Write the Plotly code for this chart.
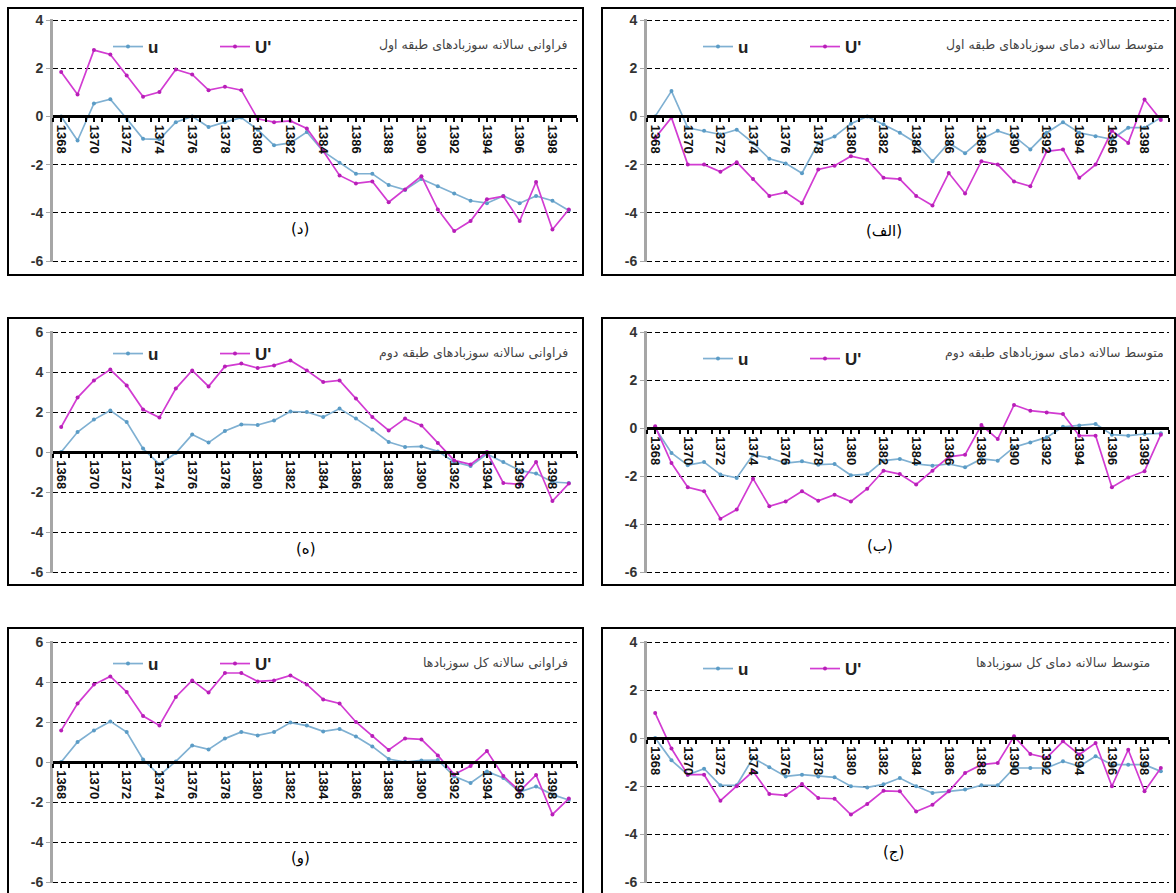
import plotly.graph_objects as go

# ---------------- data ----------------
years = [1368, 1369, 1370, 1371, 1372, 1373, 1374, 1375, 1376, 1377, 1378, 1379,
         1380, 1381, 1382, 1383, 1384, 1385, 1386, 1387, 1388, 1389, 1390, 1391,
         1392, 1393, 1394, 1395, 1396, 1397, 1398, 1399]
year_labels = ["1368", "1370", "1372", "1374", "1376", "1378", "1380", "1382",
               "1384", "1386", "1388", "1390", "1392", "1394", "1396", "1398"]

# (د) frequency of class-1 winds
freq1_u = [0.0, -1.0, 0.54, 0.71, -0.1, -0.93, -0.95, -0.24, 0.0, -0.44, -0.24, -0.05,
           -0.55, -1.2, -1.1, -0.65, -1.45, -1.92, -2.38, -2.38, -2.85, -3.05, -2.6, -2.9,
           -3.2, -3.5, -3.6, -3.3, -3.6, -3.3, -3.5, -3.9]
freq1_up = [1.84, 0.91, 2.75, 2.57, 1.70, 0.82, 1.01, 1.95, 1.74, 1.09, 1.23, 1.09,
            -0.1, -0.24, -0.19, -0.5, -1.44, -2.45, -2.78, -2.70, -3.56, -3.03, -2.48, -3.86,
            -4.76, -4.34, -3.44, -3.31, -4.34, -2.72, -4.69, -3.86]

# (الف) mean temperature of class-1 winds
temp1_u = [0.0, 1.05, -0.47, -0.6, -0.75, -0.55, -1.1, -1.76, -1.95, -2.36, -1.1, -0.83,
           -0.3, 0.0, -0.33, -0.68, -1.1, -1.86, -1.1, -1.53, -0.95, -0.6, -0.82, -1.37,
           -0.68, -0.24, -0.68, -0.82, -0.95, -0.47, -0.47, -0.05]
temp1_up = [-0.9, -0.05, -2.0, -2.0, -2.3, -1.9, -2.6, -3.3, -3.15, -3.6, -2.2, -2.05,
            -1.65, -1.8, -2.55, -2.6, -3.3, -3.7, -2.35, -3.2, -1.86, -2.0, -2.7, -2.9,
            -1.45, -1.37, -2.55, -2.0, -0.6, -1.1, 0.7, -0.15]

# (ه) frequency of class-2 winds
freq2_u = [0.0, 1.0, 1.62, 2.08, 1.5, 0.17, -0.62, -0.05, 0.87, 0.47, 1.05, 1.38,
           1.35, 1.58, 2.02, 2.0, 1.75, 2.17, 1.67, 1.12, 0.5, 0.25, 0.28, 0.03,
           -0.5, -0.7, -0.1, -0.5, -0.92, -1.08, -1.5, -1.55]
freq2_up = [1.25, 2.72, 3.58, 4.12, 3.33, 2.12, 1.72, 3.17, 4.08, 3.28, 4.28, 4.42,
            4.2, 4.33, 4.58, 4.08, 3.5, 3.58, 2.67, 1.75, 1.08, 1.67, 1.33, 0.45,
            -0.42, -0.62, 0.0, -1.55, -1.62, -0.5, -2.45, -1.58]

# (ب) mean temperature of class-2 winds
temp2_u = [0.0, -1.04, -1.55, -1.42, -1.94, -2.08, -1.11, -1.25, -1.46, -1.39, -1.53, -1.5,
           -1.97, -1.92, -1.36, -1.29, -1.5, -1.57, -1.5, -1.64, -1.29, -1.36, -0.8, -0.6,
           -0.39, 0.05, 0.1, 0.17, -0.28, -0.32, -0.25, -0.22]
temp2_up = [0.07, -1.46, -2.47, -2.64, -3.78, -3.4, -2.11, -3.26, -3.06, -2.64, -3.03, -2.78,
            -3.06, -2.53, -1.78, -1.92, -2.35, -1.78, -1.2, -1.11, 0.12, -0.46, 0.96, 0.72,
            0.65, 0.58, -0.32, -0.32, -2.47, -2.06, -1.8, -0.28]

# (و) frequency of all winds
freqall_u = [0.0, 1.0, 1.58, 2.03, 1.5, 0.13, -0.67, 0.03, 0.83, 0.63, 1.17, 1.5,
             1.33, 1.5, 1.97, 1.82, 1.53, 1.65, 1.28, 0.78, 0.15, 0.0, 0.08, 0.1,
             -0.72, -1.05, -0.47, -0.8, -1.5, -1.22, -1.63, -1.9]
freqall_up = [1.58, 2.92, 3.87, 4.28, 3.5, 2.3, 1.83, 3.25, 4.08, 3.47, 4.45, 4.45,
              4.03, 4.08, 4.33, 3.88, 3.13, 2.93, 2.0, 1.3, 0.6, 1.18, 1.13, 0.33,
              -0.62, -0.2, 0.55, -0.7, -1.45, -0.65, -2.62, -1.83]

# (ج) mean temperature of all winds
tempall_u = [0.0, -0.93, -1.53, -1.28, -1.97, -1.97, -0.83, -1.22, -1.6, -1.53, -1.6, -1.64,
             -2.01, -2.06, -1.93, -1.67, -2.01, -2.29, -2.22, -2.15, -1.97, -1.97, -1.25, -1.25,
             -1.25, -0.97, -1.18, -0.76, -1.11, -1.11, -1.11, -1.39]
tempall_up = [1.04, -0.44, -1.53, -1.53, -2.61, -2.01, -1.39, -2.33, -2.39, -1.92, -2.5, -2.53,
              -3.19, -2.75, -2.2, -2.22, -3.06, -2.78, -2.22, -1.46, -1.11, -1.04, 0.07, -0.67,
              -0.83, -0.14, -0.69, -0.21, -2.01, -0.49, -2.22, -1.25]

series_names = ["u", "U'"]
titles = ["فراوانی سالانه سوزبادهای طبقه اول",
          "متوسط سالانه دمای سوزبادهای طبقه اول",
          "فراوانی سالانه سوزبادهای طبقه دوم",
          "متوسط سالانه دمای سوزبادهای طبقه دوم",
          "فراوانی سالانه کل سوزبادها",
          "متوسط سالانه دمای کل سوزبادها"]
panel_labels = ["(د)", "(الف)", "(ه)", "(ب)", "(و)", "(ج)"]

# ---------------- layout helpers ----------------
W, H = 1176, 893
def px(x):
    return x / W
def py(y):
    return 1 - y / H

C_U = "#7fb0d2"
C_UM = "#5b9cc6"
C_UP = "#d23cd2"
C_UPM = "#b81fb8"
FONT = "Liberation Sans, Arial, sans-serif"
FA_FONT = "DejaVu Sans, Noto Sans, sans-serif"
PAD = 0.06

panels = [
    dict(u=freq1_u, up=freq1_up, ymin=-6, ymax=4, plot=(53, 20, 577, 261), box=(8, 8, 583, 275),
         leg=(108, 29), title=(570, 45), lab=(300, 229)),
    dict(u=temp1_u, up=temp1_up, ymin=-6, ymax=4, plot=(647, 20, 1169, 261), box=(602, 8, 1175, 275),
         leg=(698, 29), title=(1166, 45), lab=(884, 231)),
    dict(u=freq2_u, up=freq2_up, ymin=-6, ymax=6, plot=(53, 332, 577, 572), box=(8, 318, 583, 585),
         leg=(108, 336), title=(570, 353), lab=(306, 549)),
    dict(u=temp2_u, up=temp2_up, ymin=-6, ymax=4, plot=(647, 332, 1169, 572), box=(602, 318, 1175, 585),
         leg=(698, 341), title=(1166, 353), lab=(880, 546)),
    dict(u=freqall_u, up=freqall_up, ymin=-6, ymax=6, plot=(53, 642, 577, 882), box=(8, 628, 583, 900),
         leg=(108, 646), title=(570, 663), lab=(300, 858)),
    dict(u=tempall_u, up=tempall_up, ymin=-6, ymax=4, plot=(647, 642, 1169, 882), box=(602, 628, 1175, 900),
         leg=(698, 651), title=(1152, 663), lab=(893, 852)),
]

fig = go.Figure()
layout = dict(width=W, height=H, margin=dict(l=0, r=0, t=0, b=0, autoexpand=False),
              paper_bgcolor="white", plot_bgcolor="white", showlegend=True)
shapes = []
annotations = []

for i, p in enumerate(panels, start=1):
    sfx = "" if i == 1 else str(i)
    leg_name = "legend" if i == 1 else f"legend{i}"
    x0, y0, x1, y1 = p["plot"]
    fig.add_trace(go.Scatter(
        x=years, y=p["u"], name=series_names[0], mode="lines+markers",
        line=dict(color=C_U, width=1.7), marker=dict(color=C_UM, size=4),
        xaxis=f"x{sfx}", yaxis=f"y{sfx}", legend=leg_name))
    fig.add_trace(go.Scatter(
        x=years, y=p["up"], name=series_names[1], mode="lines+markers",
        line=dict(color=C_UP, width=1.7), marker=dict(color=C_UPM, size=4),
        xaxis=f"x{sfx}", yaxis=f"y{sfx}", legend=leg_name))

    ppu = (y1 - y0) / (p["ymax"] - p["ymin"])
    ydom = [py(y1 + PAD * ppu), py(y0 - PAD * ppu)]
    zero_pos = py(y0 + p["ymax"] * ppu)
    yt = list(range(p["ymin"], p["ymax"] + 1, 2))

    layout[f"xaxis{sfx}"] = dict(
        domain=[px(x0), px(x1)], range=[years[0] - 0.5, years[-1] + 0.5],
        anchor="free", position=zero_pos, automargin=False,
        showline=True, linecolor="black", linewidth=2.5,
        tickmode="array", tickvals=years[::2], ticktext=year_labels,
        tickangle=90, ticks="outside", ticklen=4, tickcolor="black", tickwidth=1.5,
        minor=dict(tickmode="linear", tick0=years[0] - 0.5, dtick=1, ticks="outside",
                   ticklen=4, tickcolor="black", tickwidth=1.5, showgrid=False),
        showgrid=False, zeroline=False,
        tickfont=dict(family=FONT, size=13, color="#111", weight="bold"),
    )
    layout[f"yaxis{sfx}"] = dict(
        domain=ydom, range=[p["ymin"] - PAD, p["ymax"] + PAD], anchor=f"x{sfx}",
        automargin=False,
        tickmode="array", tickvals=yt, ticktext=[str(v) for v in yt],
        showgrid=True, gridcolor="black", gridwidth=1, griddash="5px,3px",
        zeroline=False, showline=True, linecolor="#a6a6a6", linewidth=3,
        ticks="outside", ticklen=4, tickcolor="#a6a6a6",
        tickfont=dict(family=FONT, size=14, color="#333", weight="bold"),
    )
    lx, ly = p["leg"]
    layout[leg_name] = dict(
        x=px(lx), y=py(ly), xanchor="left", yanchor="top", orientation="h",
        bgcolor="rgba(0,0,0,0)", entrywidth=62, entrywidthmode="pixels",
        itemwidth=30, tracegroupgap=0,
        font=dict(family=FONT, size=17, color="#222", weight="bold"),
    )
    bx0, by0, bx1, by1 = p["box"]
    shapes.append(dict(type="rect", xref="paper", yref="paper",
                       x0=px(bx0), y0=py(by1), x1=px(bx1), y1=py(by0),
                       line=dict(color="black", width=2), layer="below"))
    annotations.append(dict(text=titles[i - 1], xref="paper", yref="paper",
                            x=px(p["title"][0]), y=py(p["title"][1]), xanchor="right", yanchor="middle",
                            showarrow=False, font=dict(family=FA_FONT, size=12.5, color="#444")))
    annotations.append(dict(text=panel_labels[i - 1], xref="paper", yref="paper",
                            x=px(p["lab"][0]), y=py(p["lab"][1]), xanchor="center", yanchor="middle",
                            showarrow=False, font=dict(family=FA_FONT, size=15, color="black")))

layout["shapes"] = shapes
layout["annotations"] = annotations
fig.update_layout(**layout)
fig.write_html("out.html", config={"displayModeBar": False},
               post_script="document.body.style.margin='0px';document.body.style.overflow='hidden';")
